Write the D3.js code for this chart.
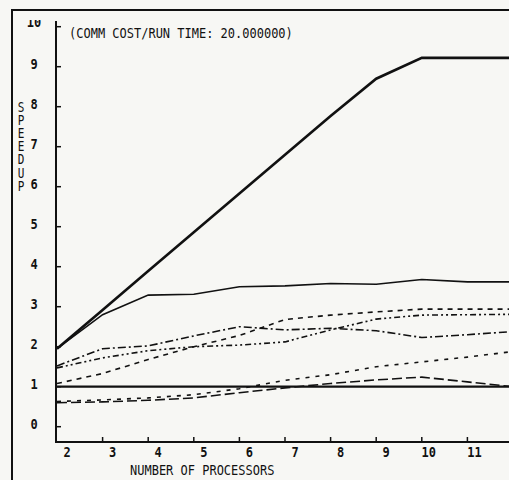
<!DOCTYPE html>
<html>
<head>
<meta charset="utf-8">
<script src="https://cdn.jsdelivr.net/npm/d3@7"></script>
<style>
  body { margin: 0; background: #f7f7f4; }
  svg { display: block; }
  text { font-family: "DejaVu Sans Mono", monospace; fill: #111; }
</style>
</head>
<body>
<svg id="chart"></svg>
<script>
// number of processors on the x axis
var procs = [2, 3, 4, 5, 6, 7, 8, 9, 10, 11, 12];

// speedup curves, one value per processor count
var thickSolid = [1.95, 2.92, 3.89, 4.86, 5.83, 6.8, 7.77, 8.7, 9.22, 9.22, 9.22];
var thinSolid  = [1.95, 2.8, 3.29, 3.31, 3.5, 3.52, 3.58, 3.56, 3.68, 3.62, 3.62];
var dashDot    = [1.52, 1.95, 2.02, 2.27, 2.5, 2.42, 2.46, 2.4, 2.23, 2.3, 2.38];
var dashDotDot = [1.47, 1.72, 1.9, 2.0, 2.04, 2.12, 2.42, 2.69, 2.79, 2.8, 2.81];
var shortDash  = [1.08, 1.33, 1.68, 2.0, 2.28, 2.68, 2.79, 2.87, 2.94, 2.94, 2.94];
var longDash   = [0.6, 0.62, 0.66, 0.72, 0.85, 0.97, 1.08, 1.17, 1.24, 1.12, 1.0];
var plainDash  = [0.63, 0.67, 0.72, 0.8, 0.95, 1.16, 1.3, 1.5, 1.62, 1.74, 1.88];
var unity      = [1, 1, 1, 1, 1, 1, 1, 1, 1, 1, 1];

var yTicks = [0, 1, 2, 3, 4, 5, 6, 7, 8, 9, 10];
var xTicks = [2, 3, 4, 5, 6, 7, 8, 9, 10, 11];

var width = 509,
    height = 480;

var svg = d3.select("#chart")
    .attr("width", width)
    .attr("height", height);

svg.append("rect")
    .attr("width", width).attr("height", height)
    .attr("fill", "#f7f7f4");

var x = d3.scaleLinear().domain([2, 12]).range([57, 513]);
var y = d3.scaleLinear().domain([0, 10]).range([426.7, 26.7]);

// plotter glyphs are tall and narrow, so stretch text vertically
function tallText(sel, size, weight) {
  return sel.style("font-size", size + "px")
    .style("font-weight", weight || "normal");
}
function stretched(parent, tx, ty) {
  return parent.append("g")
    .attr("transform", "translate(" + tx + "," + ty + ") scale(1,1.22)");
}

// outer frame
svg.append("path")
    .attr("d", "M12,480 L12,10 L512,10")
    .attr("fill", "none")
    .attr("stroke", "#111")
    .attr("stroke-width", 2);

// y axis with inward ticks
var yAxis = svg.append("g");
yAxis.append("line")
    .attr("x1", 56).attr("x2", 56)
    .attr("y1", 21).attr("y2", 443)
    .attr("stroke", "#111").attr("stroke-width", 2);
yAxis.selectAll(".yt")
    .data(yTicks)
    .enter().append("line")
    .attr("x1", 56).attr("x2", 61)
    .attr("y1", function(d) { return y(d); })
    .attr("y2", function(d) { return y(d); })
    .attr("stroke", "#111").attr("stroke-width", 1.5);

// the top label is cut off in the original print
svg.append("clipPath").attr("id", "topclip")
    .append("rect").attr("x", 0).attr("y", 20).attr("width", 60).attr("height", 440);

var yLab = yAxis.append("g").attr("clip-path", "url(#topclip)");
yTicks.forEach(function(d) {
  var g = stretched(yLab, 34, d == 10 ? y(d) + 0.5 : y(d) + 2);
  tallText(g.append("text"), 12, "bold")
    .attr("text-anchor", "middle")
    .text(d);
});

// x axis with upward ticks
var xAxis = svg.append("g");
xAxis.append("line")
    .attr("x1", 55).attr("x2", width)
    .attr("y1", 442).attr("y2", 442)
    .attr("stroke", "#111").attr("stroke-width", 2);
xAxis.selectAll(".xt")
    .data(xTicks.slice(1))
    .enter().append("line")
    .attr("x1", function(d) { return x(d); })
    .attr("x2", function(d) { return x(d); })
    .attr("y1", 442).attr("y2", 437)
    .attr("stroke", "#111").attr("stroke-width", 1.5);
xTicks.forEach(function(d) {
  var g = stretched(xAxis, x(d) + (String(d).length > 1 ? 7 : 10), 457);
  tallText(g.append("text"), 12, "bold")
    .attr("text-anchor", "middle")
    .text(d);
});

tallText(stretched(svg, 130, 475).append("text"), 12)
    .text("NUMBER OF PROCESSORS");

// vertical stacked axis title, upright letters in one text run
tallText(stretched(svg, 21, 100).append("text"), 11)
    .style("writing-mode", "vertical-rl")
    .style("text-orientation", "upright")
    .style("letter-spacing", "-1.8px")
    .attr("x", 0).attr("y", 0)
    .text("SPEEDUP");

tallText(stretched(svg, 69, 38).append("text"), 12)
    .text("(COMM COST/RUN TIME: 20.000000)");

// curves
var line = d3.line()
    .x(function(d) { return x(d[0]); })
    .y(function(d) { return y(d[1]); });

var series = [
  {vals: unity,      w: 2.2, dash: null},
  {vals: thickSolid, w: 2.6, dash: null},
  {vals: thinSolid,  w: 1.6, dash: null},
  {vals: dashDot,    w: 1.6, dash: "8,3,2,3"},
  {vals: dashDotDot, w: 1.6, dash: "6,3,2,3,2,3"},
  {vals: shortDash,  w: 1.6, dash: "5,5"},
  {vals: longDash,   w: 1.6, dash: "10,4"},
  {vals: plainDash,  w: 1.6, dash: "4,6"}
];

svg.append("clipPath").attr("id", "plotclip")
    .append("rect").attr("x", 56).attr("y", 10).attr("width", 460).attr("height", 432);

svg.append("g").attr("clip-path", "url(#plotclip)")
    .selectAll("path")
    .data(series)
    .enter().append("path")
    .attr("d", function(s) { return line(procs.map(function(p, i) { return [p, s.vals[i]]; })); })
    .attr("fill", "none")
    .attr("stroke", "#111")
    .attr("stroke-width", function(s) { return s.w; })
    .attr("stroke-dasharray", function(s) { return s.dash; });
</script>
</body>
</html>
